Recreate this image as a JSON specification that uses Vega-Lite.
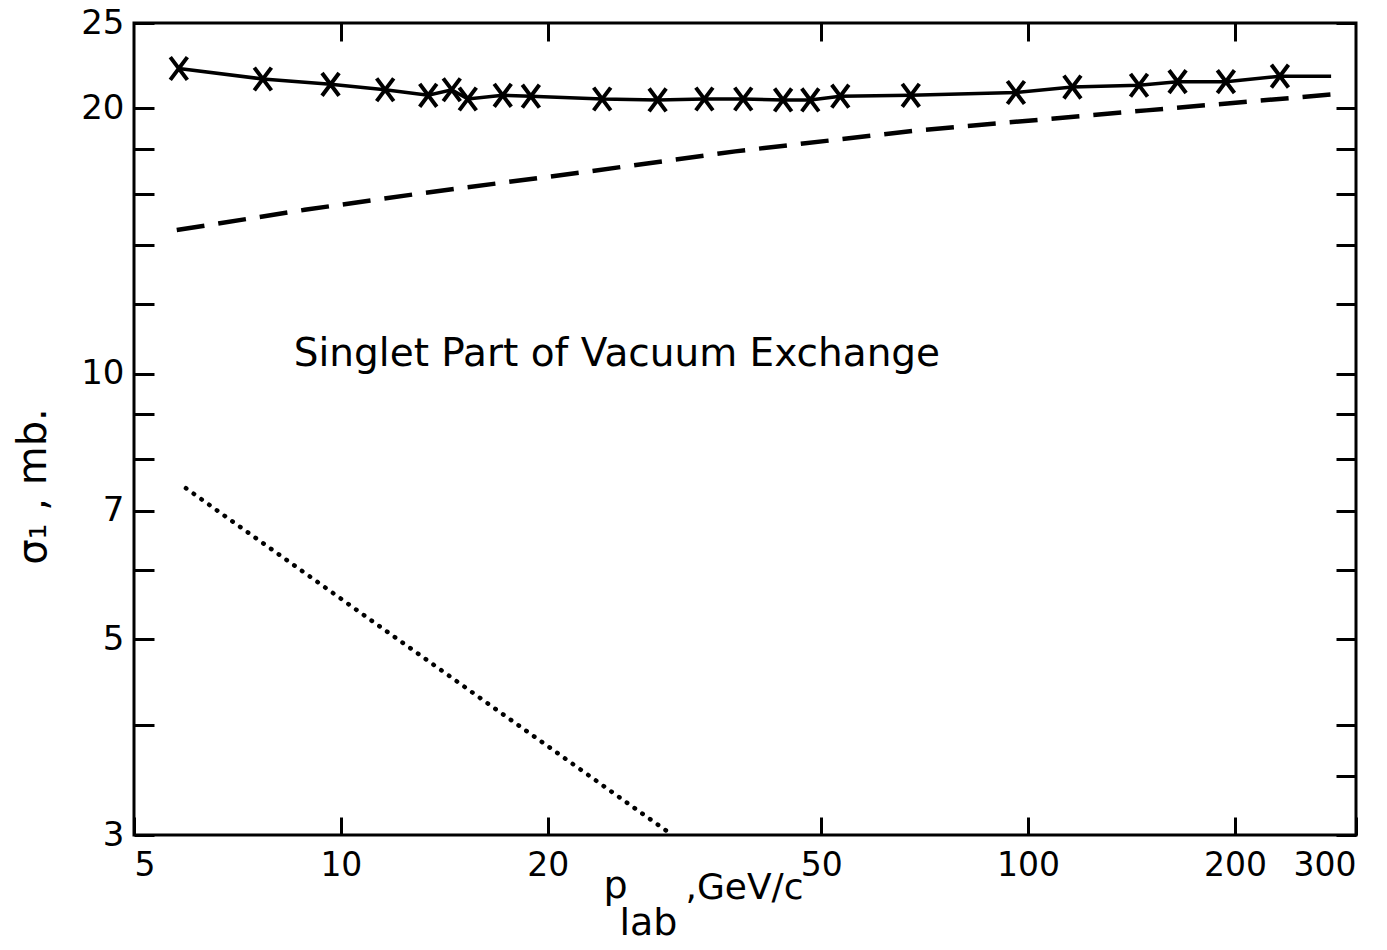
{
  "$schema": "https://vega.github.io/schema/vega-lite/v6.json",
  "width": 1222,
  "height": 812,
  "autosize": {"type": "none"},
  "padding": {"left": 134, "top": 23, "right": 31, "bottom": 115},
  "background": "white",
  "config": {
    "view": {"stroke": "black", "strokeWidth": 3},
    "font": "DejaVu Sans",
    "axis": {"domain": false, "grid": false, "tickColor": "black", "tickWidth": 3, "labelColor": "black", "titleColor": "black", "labelFont": "DejaVu Sans", "titleFont": "DejaVu Sans", "labelFontWeight": "normal", "titleFontWeight": "normal"}
  },
  "datasets": {
    "solid": [
      {"p": 5.81, "sigma": 22.2, "marked": true},
      {"p": 7.7, "sigma": 21.6, "marked": true},
      {"p": 9.66, "sigma": 21.3, "marked": true},
      {"p": 11.6, "sigma": 21.0, "marked": true},
      {"p": 13.4, "sigma": 20.7, "marked": true},
      {"p": 14.5, "sigma": 21.0, "marked": true},
      {"p": 15.3, "sigma": 20.5, "marked": true},
      {"p": 17.2, "sigma": 20.7, "marked": true},
      {"p": 18.9, "sigma": 20.65, "marked": true},
      {"p": 24.0, "sigma": 20.5, "marked": true},
      {"p": 28.9, "sigma": 20.45, "marked": true},
      {"p": 33.8, "sigma": 20.5, "marked": true},
      {"p": 38.5, "sigma": 20.5, "marked": true},
      {"p": 44.0, "sigma": 20.45, "marked": true},
      {"p": 48.2, "sigma": 20.45, "marked": true},
      {"p": 53.3, "sigma": 20.65, "marked": true},
      {"p": 67.5, "sigma": 20.7, "marked": true},
      {"p": 96, "sigma": 20.85, "marked": true},
      {"p": 116, "sigma": 21.15, "marked": true},
      {"p": 145, "sigma": 21.25, "marked": true},
      {"p": 165, "sigma": 21.45, "marked": true},
      {"p": 194, "sigma": 21.45, "marked": true},
      {"p": 232.5, "sigma": 21.76, "marked": true},
      {"p": 276, "sigma": 21.75, "marked": false}
    ],
    "dashed": [
      {"p": 5.77, "sigma": 14.56},
      {"p": 8.86, "sigma": 15.35},
      {"p": 13.2, "sigma": 16.04},
      {"p": 22.6, "sigma": 16.94},
      {"p": 37.5, "sigma": 17.88},
      {"p": 68.7, "sigma": 18.88},
      {"p": 148.6, "sigma": 19.9},
      {"p": 276, "sigma": 20.74}
    ],
    "dotted": [
      {"p": 5.95, "sigma": 7.42},
      {"p": 30.0, "sigma": 3.02}
    ],
    "notes": [
      {"label": "Singlet Part of Vacuum Exchange"}
    ]
  },
  "resolve": {"axis": {"x": "independent", "y": "independent"}},
  "layer": [
    {
      "data": {"name": "dashed"},
      "mark": {"type": "line", "color": "black", "strokeWidth": 4.5, "strokeDash": [28, 14], "clip": false},
      "encoding": {
        "x": {"field": "p", "type": "quantitative",
          "scale": {"type": "log", "domain": [5, 300], "nice": false, "zero": false},
          "axis": {"orient": "bottom", "values": [5, 10, 20, 50, 100, 200, 300], "format": "d", "tickSize": -18, "labelPadding": 32, "labelFontSize": 33,
            "title": "p", "titleFontSize": 38, "titleX": 481, "titleY": 62, "titleAlign": "center", "titleBaseline": "alphabetic", "titleAnchor": null}},
        "y": {"field": "sigma", "type": "quantitative",
          "scale": {"type": "log", "domain": [3, 25], "nice": false, "zero": false},
          "axis": {"orient": "left", "values": [3, 4, 5, 6, 7, 8, 9, 10, 12, 14, 16, 18, 20, 25], "tickSize": -20, "labelPadding": 30, "labelFontSize": 34,
            "labelExpr": "indexof([3,5,7,10,20,25], datum.value) >= 0 ? datum.value : ''",
            "title": "σ₁ , mb.", "titleFontSize": 40, "titleX": -89, "titleY": 463, "titleAngle": -90, "titleAlign": "center", "titleBaseline": "alphabetic", "titleAnchor": null}}
      }
    },
    {
      "data": {"name": "dotted"},
      "mark": {"type": "line", "color": "black", "strokeWidth": 4.5, "strokeDash": [0.5, 9], "strokeCap": "round", "clip": false},
      "encoding": {
        "x": {"field": "p", "type": "quantitative",
          "scale": {"type": "log", "domain": [5, 300], "nice": false, "zero": false},
          "axis": {"orient": "top", "values": [10, 20, 50, 100, 200], "labels": false, "tickSize": -18,
            "title": "lab", "titleFontSize": 38, "titleX": 514, "titleY": 911, "titleAlign": "center", "titleBaseline": "alphabetic", "titleAnchor": null}},
        "y": {"field": "sigma", "type": "quantitative",
          "scale": {"type": "log", "domain": [3, 25], "nice": false, "zero": false},
          "axis": {"orient": "right", "values": [3, 3.5, 4, 5, 6, 7, 8, 9, 10, 12, 14, 16, 18, 20, 25], "labels": false, "tickSize": -20,
            "title": ",GeV/c", "titleFontSize": 36, "titleX": -671, "titleY": 875, "titleAngle": 0, "titleAlign": "left", "titleBaseline": "alphabetic", "titleAnchor": null}}
      }
    },
    {
      "data": {"name": "solid"},
      "mark": {"type": "line", "color": "black", "strokeWidth": 3.5},
      "encoding": {
        "x": {"field": "p", "type": "quantitative", "scale": {"type": "log", "domain": [5, 300], "nice": false, "zero": false}, "axis": null},
        "y": {"field": "sigma", "type": "quantitative", "scale": {"type": "log", "domain": [3, 25], "nice": false, "zero": false}, "axis": null}
      }
    },
    {
      "data": {"name": "solid"},
      "transform": [{"filter": "datum.marked"}],
      "mark": {"type": "point", "shape": "M-0.75,-1L0.75,1M-0.75,1L0.75,-1", "size": 520, "filled": false, "color": "black", "strokeWidth": 4, "opacity": 1},
      "encoding": {
        "x": {"field": "p", "type": "quantitative", "scale": {"type": "log", "domain": [5, 300], "nice": false, "zero": false}, "axis": null},
        "y": {"field": "sigma", "type": "quantitative", "scale": {"type": "log", "domain": [3, 25], "nice": false, "zero": false}, "axis": null}
      }
    },
    {
      "data": {"name": "notes"},
      "mark": {"type": "text", "font": "DejaVu Sans", "fontSize": 39, "align": "left", "baseline": "alphabetic", "color": "black"},
      "encoding": {
        "text": {"field": "label"},
        "x": {"datum": 8.54, "type": "quantitative", "scale": {"type": "log", "domain": [5, 300], "nice": false, "zero": false}, "axis": null},
        "y": {"datum": 10.2, "type": "quantitative", "scale": {"type": "log", "domain": [3, 25], "nice": false, "zero": false}, "axis": null}
      }
    }
  ]
}
